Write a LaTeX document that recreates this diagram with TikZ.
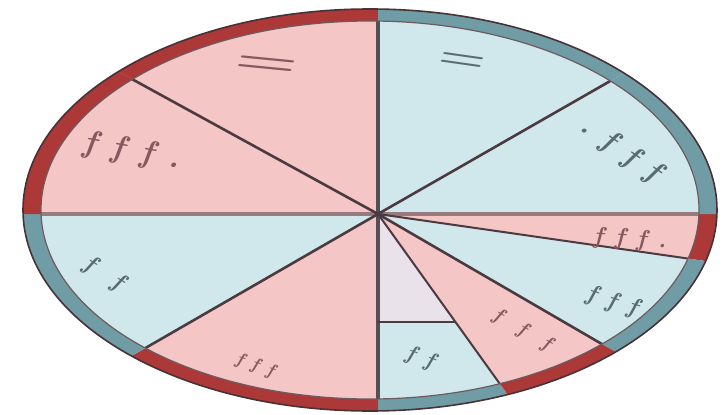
\documentclass[tikz,border=0pt]{standalone}
\usetikzlibrary{calc}
\definecolor{pinkf}{RGB}{245,198,198}
\definecolor{bluef}{RGB}{208,232,236}
\definecolor{palef}{RGB}{234,226,234}
\definecolor{redrim}{RGB}{172,56,56}
\definecolor{bluerim}{RGB}{112,156,166}
\definecolor{rimedge}{RGB}{70,50,55}
\definecolor{divline}{RGB}{75,58,64}
\definecolor{hline}{RGB}{150,122,126}
\definecolor{vline}{RGB}{85,78,82}
\definecolor{tpink}{RGB}{135,88,94}
\definecolor{tblue}{RGB}{88,108,112}
\tikzset{
  divider/.style={divline, line width=2.6pt},
  glyphmark/.style={inner sep=0pt, font=\fontsize{26}{26}\selectfont\bfseries\itshape},
  markp/.style={glyphmark, text=tpink},
  markb/.style={glyphmark, text=tblue}
}
\begin{document}
\begin{tikzpicture}[x=1pt,y=-1pt]
\useasboundingbox (0,0) rectangle (724,415);
\fill[white] (0,0) rectangle (724,415);
\coordinate (E) at (370,210);
\coordinate (O) at (378,214);
\coordinate (pR) at (720,214);
\coordinate (pA) at (712,262);
\coordinate (pB) at (607,347);
\coordinate (pC) at (515,405);
\coordinate (pBt) at (378,415);
\coordinate (pLL) at (142,350);
\coordinate (pL) at (20,214);
\coordinate (pUL) at (130,78);
\coordinate (pT) at (378,5);
\coordinate (pUR) at (612,80);
\coordinate (vX) at (378,322);
\coordinate (cX) at ($(O)!0.565!(pC)$);
% rim colours
\begin{scope}
  \clip (E) ellipse [x radius=347pt, y radius=201pt];
  \fill[redrim]  (O) -- ($(O)!3!(pR)$)  -- ($(O)!3!(pA)$)  -- cycle;
  \fill[bluerim] (O) -- ($(O)!3!(pA)$)  -- ($(O)!3!(pB)$)  -- cycle;
  \fill[redrim]  (O) -- ($(O)!3!(pB)$)  -- ($(O)!3!(pC)$)  -- cycle;
  \fill[bluerim] (O) -- ($(O)!3!(pC)$)  -- ($(O)!3!(pBt)$) -- cycle;
  \fill[redrim]  (O) -- ($(O)!3!(pBt)$) -- ($(O)!3!(pLL)$) -- cycle;
  \fill[bluerim] (O) -- ($(O)!3!(pLL)$) -- ($(O)!3!(pL)$)  -- cycle;
  \fill[redrim]  (O) -- ($(O)!3!(pL)$)  -- ($(O)!3!(pUL)$) -- cycle;
  \fill[redrim]  (O) -- ($(O)!3!(pUL)$) -- ($(O)!3!(pT)$)  -- cycle;
  \fill[bluerim] (O) -- ($(O)!3!(pT)$)  -- ($(O)!3!(pUR)$) -- cycle;
  \fill[bluerim] (O) -- ($(O)!3!(pUR)$) -- ($(O)!3!(pR)$)  -- cycle;
\end{scope}
% sector fills
\begin{scope}
  \clip (E) ellipse [x radius=329pt, y radius=189pt];
  \fill[pinkf] (O) -- ($(O)!3!(pR)$)  -- ($(O)!3!(pA)$)  -- cycle;
  \fill[bluef] (O) -- ($(O)!3!(pA)$)  -- ($(O)!3!(pB)$)  -- cycle;
  \fill[pinkf] (O) -- ($(O)!3!(pB)$)  -- ($(O)!3!(pC)$)  -- cycle;
  \fill[palef] (O) -- ($(O)!3!(pC)$)  -- ($(O)!3!(pBt)$) -- cycle;
  \fill[bluef] (vX) -- (cX) -- ($(O)!3!(pC)$) -- ($(O)!3!(pBt)$) -- cycle;
  \fill[pinkf] (O) -- ($(O)!3!(pBt)$) -- ($(O)!3!(pLL)$) -- cycle;
  \fill[bluef] (O) -- ($(O)!3!(pLL)$) -- ($(O)!3!(pL)$)  -- cycle;
  \fill[pinkf] (O) -- ($(O)!3!(pL)$)  -- ($(O)!3!(pUL)$) -- cycle;
  \fill[pinkf] (O) -- ($(O)!3!(pUL)$) -- ($(O)!3!(pT)$)  -- cycle;
  \fill[bluef] (O) -- ($(O)!3!(pT)$)  -- ($(O)!3!(pUR)$) -- cycle;
  \fill[bluef] (O) -- ($(O)!3!(pUR)$) -- ($(O)!3!(pR)$)  -- cycle;
  % dividers
  \draw[hline, line width=4pt] ($(O)!3!(pL)$) -- ($(O)!3!(pR)$);
  \draw[vline, line width=3.6pt] ($(O)!3!(pT)$) -- ($(O)!3!(pBt)$);
  \draw[divider] (O) -- ($(O)!3!(pUL)$);
  \draw[divider] (O) -- ($(O)!3!(pUR)$);
  \draw[divider] (O) -- ($(O)!3!(pLL)$);
  \draw[divider] (O) -- ($(O)!3!(pB)$);
  \draw[divider, line width=2pt] (O) -- ($(O)!3!(pA)$);
  \draw[divider, line width=2pt] (O) -- ($(O)!3!(pC)$);
  \draw[divider, line width=1.8pt] (vX) -- (cX);
\end{scope}
% rim outlines
\draw[rimedge, line width=1.6pt] (E) ellipse [x radius=347pt, y radius=201pt];
\draw[rimedge!80, line width=1.2pt] (E) ellipse [x radius=329pt, y radius=189pt];
% blurred text marks
\node[markp, font=\fontsize{40}{40}\selectfont\bfseries, xscale=1.8, rotate=-10] (n1) at (266,66) {=};
\node[markp, font=\fontsize{32}{32}\selectfont\bfseries\itshape, rotate=-10] (n2) at (132,152) {f\enspace f\enspace f\enspace.};
\node[markb, font=\fontsize{36}{36}\selectfont\bfseries, xscale=1.5, rotate=-12] (n3) at (462,62) {=};
\node[markb, font=\fontsize{30}{30}\selectfont\bfseries\itshape, rotate=-35] (n4) at (620,150) {.\enspace f\enspace f\enspace f};
\node[markb, font=\fontsize{24}{24}\selectfont\bfseries\itshape, rotate=-32] (n5) at (104,274) {f\quad f};
\node[markp, font=\fontsize{18}{18}\selectfont\bfseries\itshape, rotate=-20] (n6) at (255,366) {f\enspace f\enspace f};
\node[markp, font=\fontsize{24}{24}\selectfont\bfseries\itshape, rotate=-4] (n7) at (630,240) {f\enspace f\enspace f\enspace.};
\node[markb, font=\fontsize{24}{24}\selectfont\bfseries\itshape, rotate=-18] (n8) at (612,302) {f\enspace f\enspace f};
\node[markp, font=\fontsize{20}{20}\selectfont\bfseries\itshape, rotate=-30] (n9) at (522,330) {f\quad f\quad f};
\node[markb, font=\fontsize{22}{22}\selectfont\bfseries\itshape, rotate=-20] (n10) at (420,358) {f\enspace f};
\end{tikzpicture}
\end{document}
